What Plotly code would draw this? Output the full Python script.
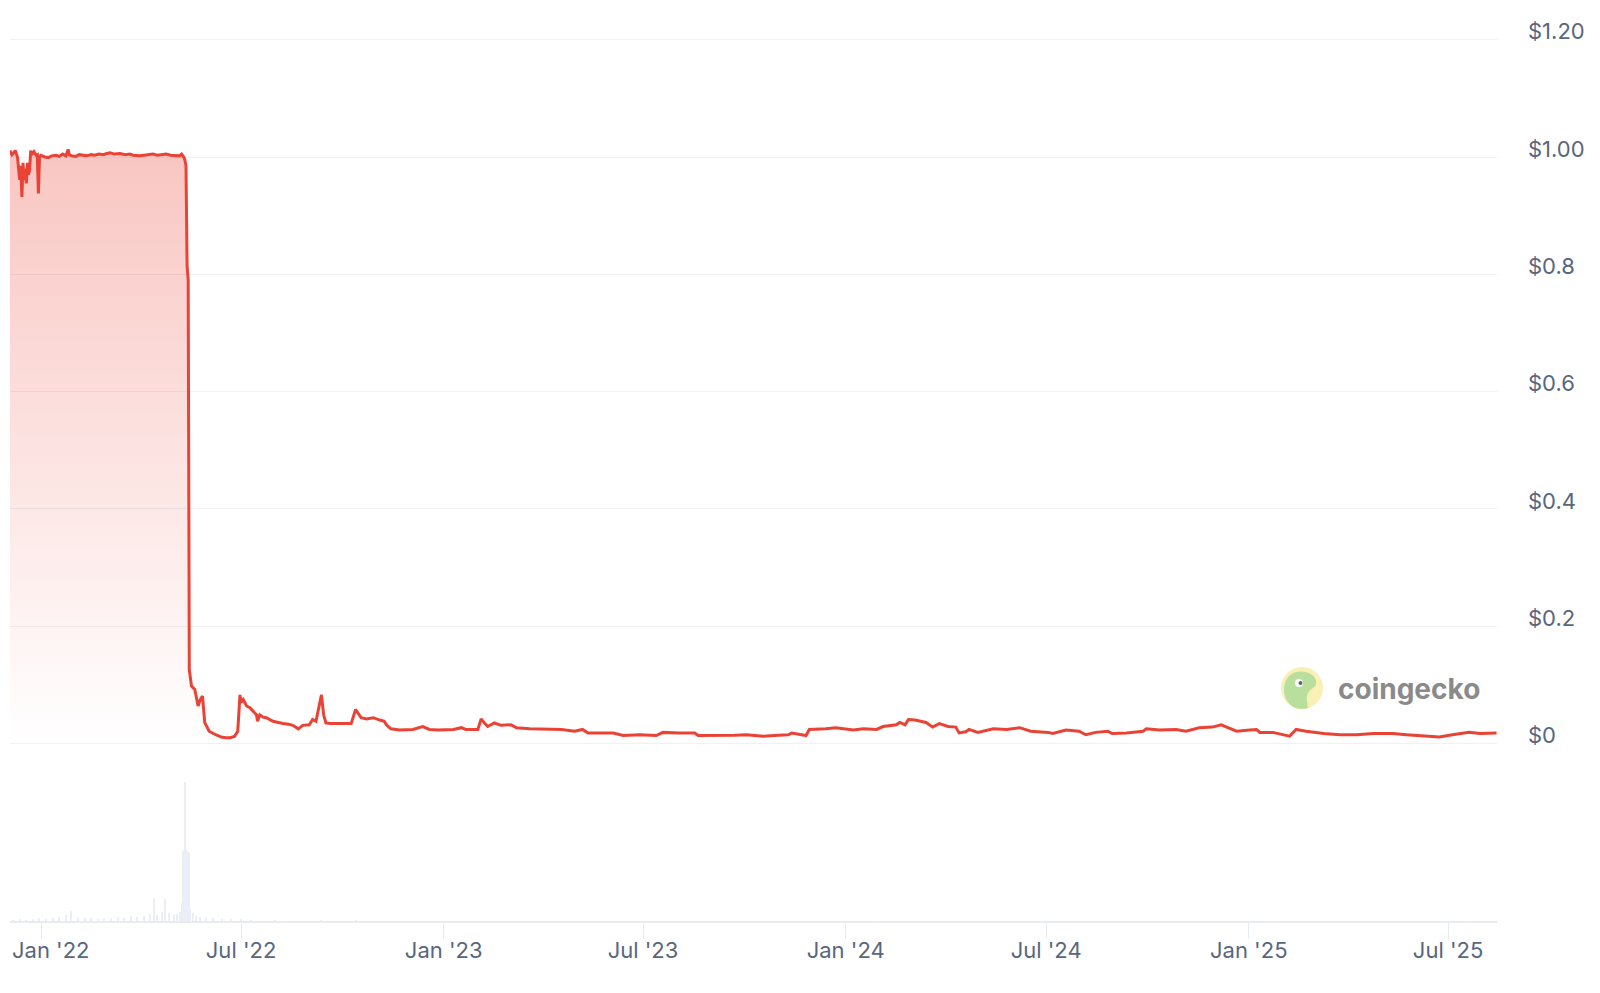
import plotly.graph_objects as go

# ---------------- data ----------------
price_dates = [
    "2021-12-03", "2021-12-05", "2021-12-06", "2021-12-08", "2021-12-10", "2021-12-11",
    "2021-12-12", "2021-12-13", "2021-12-14", "2021-12-15", "2021-12-16", "2021-12-17",
    "2021-12-18", "2021-12-19", "2021-12-20", "2021-12-21", "2021-12-22", "2021-12-23",
    "2021-12-25", "2021-12-27", "2021-12-28", "2021-12-29", "2021-12-30", "2021-12-31",
    "2022-01-02", "2022-01-04", "2022-01-07", "2022-01-10", "2022-01-14", "2022-01-17",
    "2022-01-20", "2022-01-23", "2022-01-25", "2022-01-26", "2022-01-28", "2022-02-01",
    "2022-02-04", "2022-02-07", "2022-02-11", "2022-02-15", "2022-02-18", "2022-02-22",
    "2022-02-26", "2022-03-01", "2022-03-04", "2022-03-08", "2022-03-13", "2022-03-18",
    "2022-03-22", "2022-03-25", "2022-03-31", "2022-04-04", "2022-04-08", "2022-04-12",
    "2022-04-16", "2022-04-20", "2022-04-24", "2022-04-28", "2022-05-03", "2022-05-06",
    "2022-05-08", "2022-05-10", "2022-05-11", "2022-05-12", "2022-05-13", "2022-05-14",
    "2022-05-15", "2022-05-17", "2022-05-20", "2022-05-23", "2022-05-25", "2022-05-27",
    "2022-05-29", "2022-06-02", "2022-06-08", "2022-06-13", "2022-06-17", "2022-06-21",
    "2022-06-25", "2022-06-28", "2022-06-30", "2022-07-01", "2022-07-03", "2022-07-06",
    "2022-07-09", "2022-07-12", "2022-07-15", "2022-07-16", "2022-07-18", "2022-07-21",
    "2022-07-24", "2022-07-30", "2022-08-03", "2022-08-08", "2022-08-13", "2022-08-17",
    "2022-08-22", "2022-08-26", "2022-09-01", "2022-09-04", "2022-09-07", "2022-09-10",
    "2022-09-12", "2022-09-14", "2022-09-16", "2022-09-20", "2022-09-25", "2022-09-30",
    "2022-10-04", "2022-10-09", "2022-10-13", "2022-10-15", "2022-10-18", "2022-10-23",
    "2022-10-29", "2022-11-04", "2022-11-08", "2022-11-10", "2022-11-14", "2022-11-22",
    "2022-12-01", "2022-12-04", "2022-12-13", "2022-12-19", "2022-12-27", "2023-01-03",
    "2023-01-10", "2023-01-17", "2023-01-21", "2023-02-01", "2023-02-04", "2023-02-07",
    "2023-02-10", "2023-02-16", "2023-02-22", "2023-03-03", "2023-03-08", "2023-03-20",
    "2023-04-04", "2023-04-18", "2023-04-30", "2023-05-07", "2023-05-12", "2023-05-22",
    "2023-06-04", "2023-06-13", "2023-06-28", "2023-07-13", "2023-07-19", "2023-08-03",
    "2023-08-17", "2023-08-20", "2023-09-09", "2023-09-22", "2023-10-03", "2023-10-18",
    "2023-11-01", "2023-11-10", "2023-11-13", "2023-11-26", "2023-11-29", "2023-12-14",
    "2023-12-23", "2024-01-08", "2024-01-17", "2024-01-29", "2024-02-04", "2024-02-16",
    "2024-02-19", "2024-02-24", "2024-02-27", "2024-03-04", "2024-03-14", "2024-03-20",
    "2024-03-26", "2024-04-03", "2024-04-10", "2024-04-13", "2024-04-19", "2024-04-22",
    "2024-04-30", "2024-05-14", "2024-05-26", "2024-06-07", "2024-06-17", "2024-07-03",
    "2024-07-07", "2024-07-19", "2024-07-31", "2024-08-06", "2024-08-15", "2024-08-26",
    "2024-08-30", "2024-09-12", "2024-09-27", "2024-09-30", "2024-10-12", "2024-10-27",
    "2024-11-05", "2024-11-17", "2024-11-29", "2024-12-07", "2024-12-12", "2024-12-21",
    "2025-01-02", "2025-01-08", "2025-01-11", "2025-01-23", "2025-02-07", "2025-02-13",
    "2025-02-22", "2025-03-10", "2025-03-25", "2025-04-09", "2025-04-24", "2025-05-12",
    "2025-05-24", "2025-06-08", "2025-06-23", "2025-07-05", "2025-07-20", "2025-07-30",
    "2025-08-14",
]
price_usd = [
    1.011, 1.004, 1.006, 1.011, 1.000, 0.975,
    0.961, 0.985, 0.932, 0.990, 0.961, 0.980,
    0.955, 0.990, 0.970, 0.978, 1.011, 1.004,
    1.009, 1.003, 1.004, 0.938, 1.000, 1.003,
    1.001, 1.000, 0.999, 1.002, 1.003, 1.001,
    1.005, 1.002, 1.013, 1.004, 1.002, 1.001,
    1.004, 1.003, 1.002, 1.004, 1.003, 1.005,
    1.004, 1.006, 1.007, 1.005, 1.006, 1.004,
    1.005, 1.003, 1.002, 1.003, 1.004, 1.005,
    1.003, 1.004, 1.005, 1.003, 1.003, 1.002,
    1.005, 1.000, 0.995, 0.985, 0.815, 0.790,
    0.126, 0.098, 0.092, 0.064, 0.075, 0.081,
    0.036, 0.021, 0.015, 0.011, 0.0097, 0.010,
    0.012, 0.021, 0.083, 0.070, 0.075, 0.064,
    0.061, 0.055, 0.049, 0.038, 0.049, 0.045,
    0.044, 0.038, 0.036, 0.034, 0.033, 0.031,
    0.025, 0.031, 0.032, 0.041, 0.038, 0.069,
    0.083, 0.049, 0.035, 0.034, 0.034, 0.033,
    0.034, 0.034, 0.058, 0.052, 0.044, 0.042,
    0.044, 0.040, 0.038, 0.032, 0.025, 0.023,
    0.024, 0.024, 0.029, 0.024, 0.023, 0.023,
    0.024, 0.027, 0.024, 0.024, 0.042, 0.035,
    0.029, 0.035, 0.031, 0.032, 0.027, 0.025,
    0.024, 0.024, 0.021, 0.024, 0.018, 0.018,
    0.018, 0.0136, 0.015, 0.0136, 0.019, 0.018,
    0.018, 0.0136, 0.0136, 0.014, 0.015, 0.0125,
    0.014, 0.015, 0.018, 0.0136, 0.024, 0.025,
    0.027, 0.023, 0.025, 0.024, 0.029, 0.032,
    0.036, 0.032, 0.041, 0.040, 0.036, 0.028,
    0.034, 0.029, 0.028, 0.018, 0.020, 0.024,
    0.019, 0.025, 0.024, 0.027, 0.021, 0.019,
    0.017, 0.023, 0.021, 0.015, 0.019, 0.021,
    0.017, 0.018, 0.021, 0.025, 0.023, 0.024,
    0.021, 0.027, 0.028, 0.032, 0.028, 0.021,
    0.023, 0.024, 0.019, 0.019, 0.0125, 0.024,
    0.021, 0.017, 0.015, 0.015, 0.017, 0.017,
    0.015, 0.0136, 0.011, 0.015, 0.019, 0.017,
    0.018,
]

volume_dates = [
    "2021-12-06", "2021-12-12", "2021-12-18", "2021-12-24", "2021-12-30", "2022-01-05",
    "2022-01-11", "2022-01-17", "2022-01-23", "2022-01-28", "2022-02-03", "2022-02-09",
    "2022-02-15", "2022-02-21", "2022-02-27", "2022-03-05", "2022-03-11", "2022-03-17",
    "2022-03-23", "2022-03-29", "2022-04-04", "2022-04-09", "2022-04-13", "2022-04-16",
    "2022-04-20", "2022-04-23", "2022-04-27", "2022-05-01", "2022-05-04", "2022-05-07",
    "2022-05-08", "2022-05-09", "2022-05-10", "2022-05-11", "2022-05-12", "2022-05-13",
    "2022-05-14", "2022-05-15", "2022-05-16", "2022-05-18", "2022-05-21", "2022-05-25",
    "2022-05-30", "2022-06-06", "2022-06-14", "2022-06-22", "2022-07-01", "2022-07-10",
    "2022-08-01", "2022-09-12", "2022-10-13",
]
volume_busd = [
    0.1, 0.2, 0.1, 0.2, 0.3, 0.2,
    0.3, 0.4, 0.6, 1.0, 0.4, 0.3,
    0.3, 0.2, 0.3, 0.3, 0.4, 0.3,
    0.5, 0.4, 0.5, 0.7, 2.3, 0.6,
    0.9, 2.2, 0.8, 0.6, 0.7, 0.9,
    1.8, 7.0, 7.1, 13.9, 7.1, 7.0,
    6.8, 6.9, 1.2, 0.8, 0.5, 0.4,
    0.3, 0.3, 0.2, 0.2, 0.2, 0.1,
    0.1, 0.1, 0.1,
]

x_tick_dates = ["2022-01-01", "2022-07-01", "2023-01-01", "2023-07-01",
                "2024-01-01", "2024-07-01", "2025-01-01", "2025-07-01"]
x_tick_labels = ["Jan '22", "Jul '22", "Jan '23", "Jul '23",
                 "Jan '24", "Jul '24", "Jan '25", "Jul '25"]
y_tick_values = [0, 0.2, 0.4, 0.6, 0.8, 1.0, 1.2]
y_tick_labels = ["$0", "$0.2", "$0.4", "$0.6", "$0.8", "$1.00", "$1.20"]

# ---------------- figure ----------------
RED = "#ea4335"
LABEL = "#58667e"
GRID = "#eff2f5"
FONT = "Inter"
PLOT_W, PLOT_H = 1487, 901

fig = go.Figure()

fig.add_trace(go.Bar(
    x=volume_dates, y=volume_busd, yaxis="y2",
    width=86400000, marker=dict(color="#eceef7", line=dict(width=0)),
    hoverinfo="skip", showlegend=False,
))

fig.add_trace(go.Scatter(
    x=price_dates, y=price_usd, mode="lines",
    line=dict(color=RED, width=3),
    fill="tozeroy",
    fillgradient=dict(type="vertical",
                      colorscale=[[0, "rgba(234,67,53,0)"], [1, "rgba(234,67,53,0.30)"]],
                      start=0, stop=1.0),
    showlegend=False,
))

# watermark (logo + wordmark)
ax, ay = (1302 - 10) / PLOT_W, (921 - 688) / PLOT_H
common = dict(xref="paper", yref="paper", xsizemode="pixel", ysizemode="pixel",
              xanchor=ax, yanchor=ay, layer="above")
shapes = [
    dict(type="circle", x0=-21, x1=21, y0=-21, y1=21,
         fillcolor="#fbf0b4", line=dict(width=0), **common),
    dict(type="path",
         path="M -9,-19 C -19,-12 -21,2 -14,11 C -8,18 4,18 10,13 C 15,9 16,3 11,0 "
              "C 6,-3 4,-8 5,-13 L 6,-20 C 1,-21.5 -5,-21 -9,-19 Z",
         fillcolor="#b8e09c", line=dict(width=0), **common),
    dict(type="circle", x0=-7, x1=1, y0=1, y1=9,
         fillcolor="white", line=dict(width=0), **common),
    dict(type="circle", x0=-3.5, x1=0.5, y0=3, y1=7,
         fillcolor="#5a6a5a", line=dict(width=0), **common),
]

annotations = [
    dict(text="coingecko", xref="paper", yref="paper",
         x=(1408.5 - 10) / PLOT_W, y=(921 - 689) / PLOT_H,
         xanchor="center", yanchor="middle", showarrow=False,
         font=dict(family=FONT, size=28, color="#8a8a8a", weight="bold")),
    # first x label is nudged right so it stays inside the chart (as in the original)
    dict(text=x_tick_labels[0], xref="paper", yref="paper",
         x=0, y=-(950 - 921) / PLOT_H, xanchor="left", yanchor="middle",
         showarrow=False, font=dict(family=FONT, size=22, color=LABEL)),
]
axis_ticktext = [""] + x_tick_labels[1:]

# the page body has an 8px margin: size/margins compensate so the plot area
# lands at x 10..1497, y 20..921 in the window
fig.update_layout(
    width=1592, height=985,
    margin=dict(l=2, r=103, t=12, b=72, autoexpand=False),
    paper_bgcolor="white", plot_bgcolor="white",
    showlegend=False, bargap=0,
    font=dict(family=FONT, color=LABEL),
    shapes=shapes,
    annotations=annotations,
    xaxis=dict(
        type="date", automargin=False,
        range=["2021-12-03 04:48", "2025-08-14 09:36"],
        tickvals=x_tick_dates, ticktext=axis_ticktext,
        showgrid=False, zeroline=False,
        showline=True, linecolor="#e8ebf0", linewidth=1.5,
        ticks="outside", ticklen=16, tickcolor="#e8ebf0", tickwidth=1,
        ticklabelstandoff=-7,
        tickfont=dict(family=FONT, size=22, color=LABEL),
    ),
    yaxis=dict(
        side="right", automargin=False,
        range=[-0.3026, 1.2336],
        tickvals=y_tick_values, ticktext=y_tick_labels,
        showgrid=True, gridcolor=GRID, gridwidth=1.2,
        zeroline=False, showline=False, ticks="",
        ticklabelstandoff=30, ticklabelshift=-8,
        tickfont=dict(family=FONT, size=22, color=LABEL),
    ),
    yaxis2=dict(overlaying="y", range=[0, 90], visible=False, fixedrange=True),
)

fig.write_html("out.html")
